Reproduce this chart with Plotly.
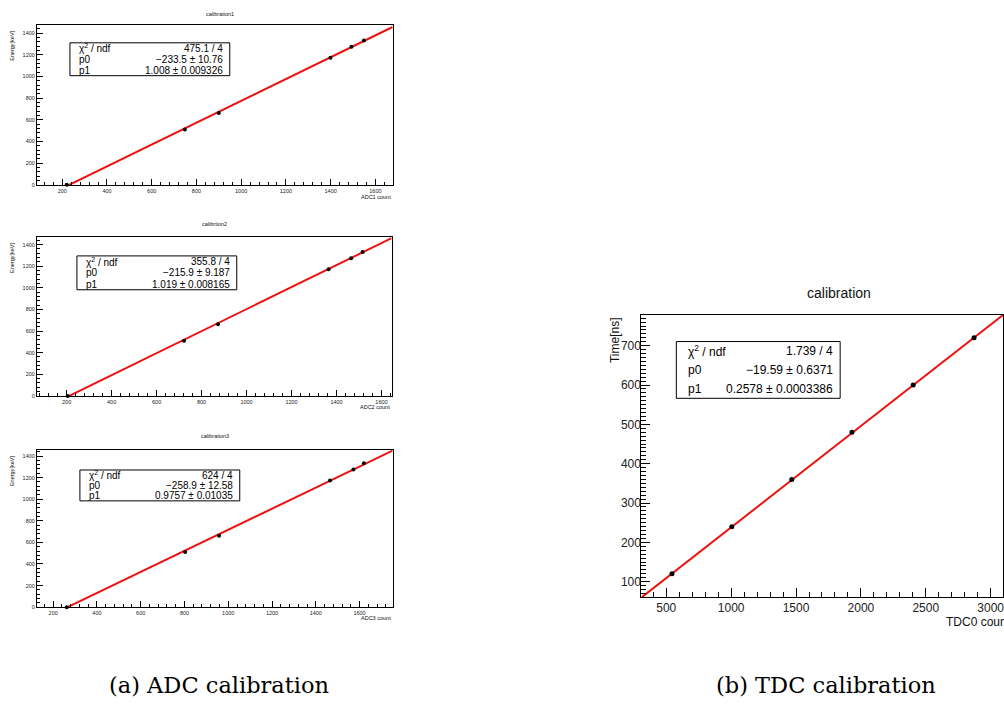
import plotly.graph_objects as go

W, H = 1004, 706

# ---------------- data ----------------
adc1_count = [220, 748, 900, 1399, 1493, 1549]
adc2_count = [205, 722, 873, 1365, 1465, 1516]
adc3_count = [262, 803, 958, 1465, 1572, 1620]
energy_kev = [0, 511, 662, 1173, 1275, 1332]

tdc0_count = [544, 1005, 1467, 1931, 2403, 2872]
time_ns = [120, 240, 360, 480, 600, 720]

fit_p0 = [-233.5, -215.9, -258.9, -19.59]
fit_p1 = [1.008, 1.019, 0.9757, 0.2578]
stat_chi2 = ["475.1 / 4", "355.8 / 4", "624 / 4", "1.739 / 4"]
stat_p0 = ["\u2212233.5 \u00b1 10.76", "\u2212215.9 \u00b1 9.187", "\u2212258.9 \u00b1 12.58", "\u221219.59 \u00b1 0.6371"]
stat_p1 = ["1.008 \u00b1 0.009326", "1.019 \u00b1 0.008165", "0.9757 \u00b1 0.01035", "0.2578 \u00b1 0.0003386"]

titles = ["calibration1", "calibrtion2", "calibration3", "calibration"]
xtitles = ["ADC1 count", "ADC2 count", "ADC3 count", "TDC0 count"]
ytitles = ["Energy[keV]", "Energy[keV]", "Energy[keV]", "Time[ns]"]
captions = ["(a) ADC calibration", "(b) TDC calibration"]

# ---------------- layout geometry (pixels) ----------------
frames = [  # x0, x1, y0(top), y1(bottom)
    (37, 393, 25, 186),
    (37, 392, 238, 398),
    (37, 393, 452, 610),
    (642, 1004, 316, 600),
]
xranges = [(87, 1677), (68, 1645), (126, 1751), (308, 3095)]
yranges = [(-4, 1476), (-4, 1471), (-2, 1455), (60, 779)]
boxes = [(70, 230, 43, 76), (77, 237, 257, 291), (80, 240, 472, 503), (677, 841, 343, 400)]


def px(x):
    return x / W


def py(y):
    return 1 - y / H


fig = go.Figure()
xs_all = [adc1_count, adc2_count, adc3_count, tdc0_count]
ys_all = [energy_kev, energy_kev, energy_kev, time_ns]

shapes = []
annotations = []
layout = {}
for i in range(4):
    sfx = "" if i == 0 else str(i + 1)
    xa, ya = "x" + sfx, "y" + sfx
    big = i == 3
    xr, yr = xranges[i], yranges[i]
    # fit line across the frame
    lx = [xr[0], xr[1]]
    ly = [fit_p0[i] + fit_p1[i] * v for v in lx]
    fig.add_trace(go.Scatter(x=lx, y=ly, mode="lines", xaxis=xa, yaxis=ya,
                             line=dict(color="#ee1111", width=2),
                             showlegend=False, hoverinfo="skip"))
    fig.add_trace(go.Scatter(x=xs_all[i], y=ys_all[i], mode="markers", xaxis=xa, yaxis=ya,
                             marker=dict(color="black", size=5 if big else 4),
                             showlegend=False, cliponaxis=False))
    fx0, fx1, fy0, fy1 = frames[i]
    tickfont = dict(family="Liberation Sans, Arial", size=12 if big else 5.5, color="#222")
    layout["xaxis" + sfx] = dict(
        domain=[px(fx0), px(fx1)], range=list(xr), anchor=ya,
        showline=True, linecolor="black", linewidth=1, mirror=True,
        ticks="inside", ticklen=9 if big else 6, tickcolor="black",
        dtick=500 if big else 200, tick0=0,
        minor=dict(ticks="inside", ticklen=5 if big else 3, dtick=100 if big else 40, tickcolor="black"),
        showgrid=False, zeroline=False, tickfont=tickfont, ticklabelstandoff=-1 if big else 0,
        ticklabeloverflow="allow",
    )
    layout["yaxis" + sfx] = dict(
        domain=[py(fy1), py(fy0)], range=list(yr), anchor=xa,
        showline=True, linecolor="black", linewidth=1, mirror=True,
        ticks="inside", ticklen=9 if big else 6, tickcolor="black",
        dtick=100 if big else 200, tick0=0,
        minor=dict(ticks="inside", ticklen=5 if big else 3, dtick=10 if big else 40, tickcolor="black"),
        showgrid=False, zeroline=False, tickfont=tickfont, ticklabelstandoff=-3 if big else 0,
        ticklabeloverflow="allow",
    )
    # titles
    tsize = 14 if big else 5.5
    ty = [14, 225, 438, 294][i]
    tx = [220, 215, 215, 840][i]
    annotations.append(dict(text=titles[i], x=px(tx), y=py(ty), xref="paper", yref="paper",
                            showarrow=False, xanchor="center", yanchor="middle",
                            font=dict(family="Liberation Sans, Arial", size=tsize, color="#111")))
    # x title (right aligned under axis)
    xty = [198, 409, 621, 625][i]
    xtx = [393, 392, 393, 945][i]
    annotations.append(dict(text=xtitles[i], x=px(xtx), y=py(xty), xref="paper", yref="paper",
                            showarrow=False, xanchor="left" if big else "right", yanchor="middle",
                            font=dict(family="Liberation Sans, Arial", size=12 if big else 5.5, color="#111")))
    # y title (rotated, top aligned)
    ytx = [12, 12, 12, 615][i]
    yty = [fy0 + 4, fy0 + 4, fy0 + 4, fy0][i]
    annotations.append(dict(text=ytitles[i], x=px(ytx), y=py(yty), xref="paper", yref="paper",
                            showarrow=False, xanchor="center", yanchor="top", textangle=-90,
                            font=dict(family="Liberation Sans, Arial", size=12 if big else 5.5, color="#111")))
    # stats box
    bx0, bx1, by0, by1 = boxes[i]
    shapes.append(dict(type="rect", xref="paper", yref="paper",
                       x0=px(bx0), x1=px(bx1), y0=py(by1), y1=py(by0),
                       line=dict(color="black", width=1), fillcolor="white", layer="above"))
    rowh = (by1 - by0) / 3
    sfont = dict(family="Liberation Sans, Arial", size=12 if big else 10, color="black")
    labels = ["\u03c7<sup>2</sup> / ndf", "p0", "p1"]
    values = [stat_chi2[i], stat_p0[i], stat_p1[i]]
    for r in range(3):
        yc = by0 + rowh * (r + 0.5)
        annotations.append(dict(text=labels[r], x=px(bx0 + (10 if big else 7)), y=py(yc), xref="paper", yref="paper",
                                showarrow=False, xanchor="left", yanchor="middle", font=sfont))
        annotations.append(dict(text=values[r], x=px(bx1 - 5), y=py(yc), xref="paper", yref="paper",
                                showarrow=False, xanchor="right", yanchor="middle", font=sfont))

# captions
cap_font = dict(family="DejaVu Serif, Liberation Serif, serif", size=22.5, color="black")
for txt, cx in zip(captions, [107, 715]):
    annotations.append(dict(text=txt, x=px(cx), y=py(688), xref="paper", yref="paper",
                            showarrow=False, xanchor="left", yanchor="middle", font=cap_font))

fig.update_layout(
    width=W, height=H, margin=dict(l=0, r=0, t=0, b=0),
    paper_bgcolor="white", plot_bgcolor="white",
    shapes=shapes, annotations=annotations, **layout,
)
fig.write_html("out.html")
